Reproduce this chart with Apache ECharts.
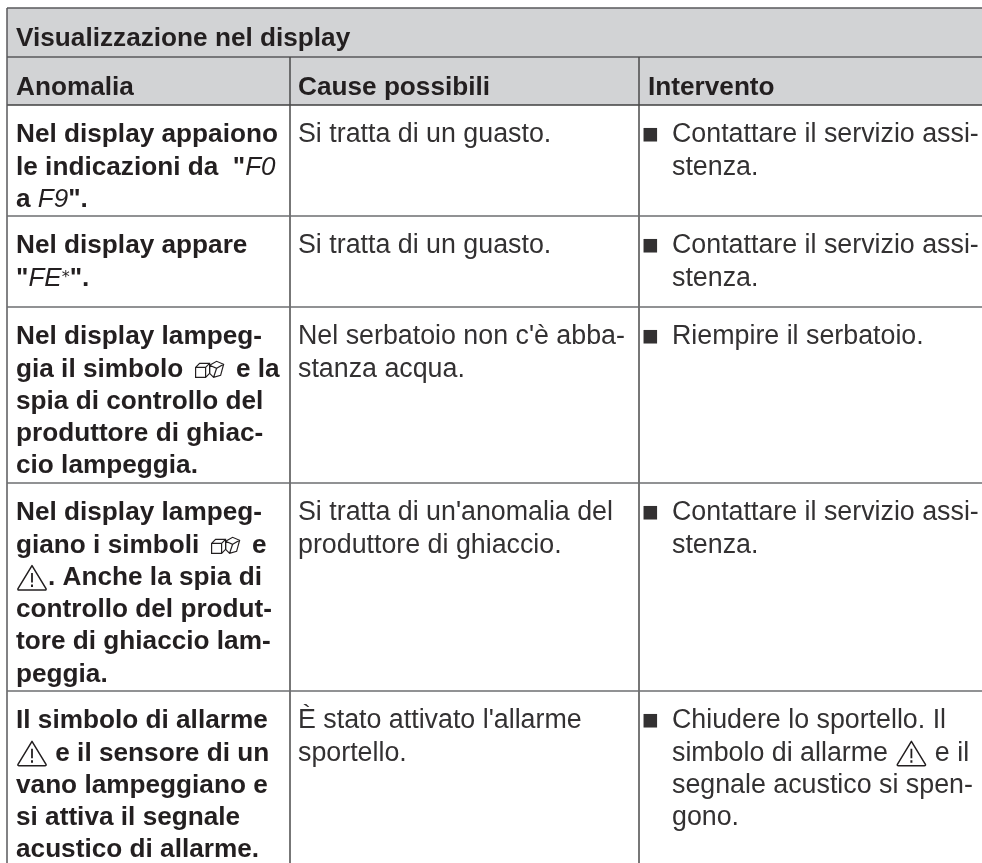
<!DOCTYPE html>
<html>
<head>
<meta charset="utf-8">
<title>Visualizzazione nel display</title>
<script src="https://cdn.jsdelivr.net/npm/echarts@6/dist/echarts.min.js"></script>
<style>
html, body { margin: 0; padding: 0; background: #fff; }
#main { width: 982px; height: 863px; }
</style>
</head>
<body>
<div id="main"></div>
<script>
// testo della tabella
var tableTitle = 'Visualizzazione nel display';
var columnTitles = ['Anomalia', 'Cause possibili', 'Intervento'];
var anomalyLines = [
    ['Nel display appaiono', 'le indicazioni da  "{lcd|F0}', 'a {lcd|F9}"{b|.}'],
    ['Nel display appare', '"{lcd|FE}{star|*}"{b|.}'],
    ['Nel display lampeg-', 'gia il simbolo {cube| } e la', 'spia di controllo del', 'produttore di ghiac-', 'cio lampeggia.'],
    ['Nel display lampeg-', 'giano i simboli {cube| } e', '{warn| }. Anche la spia di', 'controllo del produt-', 'tore di ghiaccio lam-', 'peggia.'],
    ['Il simbolo di allarme', '{warn| } e il sensore di un', 'vano lampeggiano e', 'si attiva il segnale', 'acustico di allarme.']
];
var causeLines = [
    ['Si tratta di un guasto.'],
    ['Si tratta di un guasto.'],
    ["Nel serbatoio non c'è abba-", 'stanza acqua.'],
    ["Si tratta di un'anomalia del", 'produttore di ghiaccio.'],
    ["È stato attivato l'allarme", 'sportello.']
];
var actionLines = [
    ['Contattare il servizio assi-', 'stenza.'],
    ['Contattare il servizio assi-', 'stenza.'],
    ['Riempire il serbatoio.'],
    ['Contattare il servizio assi-', 'stenza.'],
    ['Chiudere lo sportello. Il', 'simbolo di allarme {warn| } e il', 'segnale acustico si spen-', 'gono.']
];

// griglia della tabella, in pixel
var W = 982, H = 863;
var columnEdges = [7, 290, 639, 982];
var rowEdges = [105, 216, 307, 483, 691, 863];
var topEdge = 8, titleEdge = 57;
var LINE = 32.3, FIRST = 30;
var INK = '#231f20', BODY = '#333132';
var FAMILY = '"Liberation Sans", Arial, sans-serif';

var warnSvg = '<svg xmlns="http://www.w3.org/2000/svg" width="32" height="28" viewBox="0 0 32 28">' +
    '<path d="M16 2 L30 25 Q30.5 26.5 29 26.5 L3 26.5 Q1.5 26.5 2 25 Z" fill="none" stroke="#231f20" stroke-width="1.5" stroke-linejoin="round"/>' +
    '<path d="M16 9.5 L16 19" stroke="#231f20" stroke-width="1.8"/><path d="M16 21 L16 23.5" stroke="#231f20" stroke-width="2"/></svg>';
var cubeSvg = '<svg xmlns="http://www.w3.org/2000/svg" width="38" height="20" viewBox="-4 -1 38 20">' +
    '<path d="M1 7 L5 3 L15 3 L15 13 L11 17 L1 17 Z M1 7 L11 7 L11 17 M11 7 L15 3" fill="none" stroke="#231f20" stroke-width="1.2"/>' +
    '<path d="M15 5 L22 1 L29 4 L26 15 L19 17 L15 13 Z M15 5 L22 8 L29 4 M22 8 L19 17" fill="none" stroke="#231f20" stroke-width="1.2"/></svg>';

function svgUrl(svg) {
    return 'data:image/svg+xml;charset=utf-8,' + encodeURIComponent(svg);
}

var richStyles = {
    lcd: { fontFamily: FAMILY, fontStyle: 'italic', fontWeight: 'normal', fontSize: 26, color: '#4a4a4a' },
    star: { fontFamily: '"DejaVu Sans"', fontWeight: 'normal', fontSize: 16, color: '#4a4a4a' },
    b: { fontFamily: FAMILY, fontWeight: 'bold', fontSize: 26.2, color: INK },
    warn: { width: 32, height: 28, backgroundColor: { image: svgUrl(warnSvg) } },
    cube: { width: 38, height: 20, backgroundColor: { image: svgUrl(cubeSvg) } }
};

function textEl(api, x, y, text, bold, size) {
    var p = api.coord([x, y]);
    return {
        type: 'text',
        z2: 5,
        style: {
            x: p[0], y: p[1],
            text: text,
            fill: bold ? INK : BODY,
            fontFamily: FAMILY,
            fontWeight: bold ? 'bold' : 'normal',
            fontSize: size || (bold ? 26.2 : 26.8),
            align: 'left',
            verticalAlign: 'middle',
            rich: richStyles
        }
    };
}

function lineEl(api, x1, y1, x2, y2, color) {
    var a = api.coord([x1, y1]), b = api.coord([x2, y2]);
    return {
        type: 'line',
        z2: 3,
        shape: { x1: a[0], y1: a[1], x2: b[0], y2: b[1] },
        style: { stroke: color, lineWidth: 1.5 }
    };
}

// ogni dato e' una riga: [tipo, indice]
var seriesData = [['head', 0]];
anomalyLines.forEach(function (l, i) { seriesData.push(['row', i]); });

function renderItem(params, api) {
    var kind = seriesData[params.dataIndex][0];
    var r = seriesData[params.dataIndex][1];
    var kids = [];
    if (kind === 'head') {
        var a = api.coord([columnEdges[0], topEdge]), b = api.coord([W, rowEdges[0]]);
        kids.push({ type: 'rect', z2: 1, shape: { x: a[0], y: a[1], width: b[0] - a[0], height: b[1] - a[1] }, style: { fill: '#d2d3d5' } });
        kids.push(lineEl(api, columnEdges[0], topEdge, W, topEdge, '#58595b'));
        kids.push(lineEl(api, columnEdges[0], titleEdge, W, titleEdge, '#58595b'));
        kids.push(lineEl(api, columnEdges[0], rowEdges[0], W, rowEdges[0], '#3f3f3f'));
        kids.push(lineEl(api, columnEdges[0], topEdge, columnEdges[0], H, '#58595b'));
        kids.push(lineEl(api, columnEdges[1], titleEdge, columnEdges[1], H, '#4a4a4a'));
        kids.push(lineEl(api, columnEdges[2], titleEdge, columnEdges[2], H, '#4a4a4a'));
        kids.push(textEl(api, 16, 39, tableTitle, true));
        kids.push(textEl(api, 16, 88, columnTitles[0], true));
        kids.push(textEl(api, 298, 88, columnTitles[1], true));
        kids.push(textEl(api, 648, 88, columnTitles[2], true));
    } else {
        var top = rowEdges[r];
        if (r > 0) {
            kids.push(lineEl(api, columnEdges[0], top, W, top, '#6d6e70'));
        }
        anomalyLines[r].forEach(function (t, i) {
            kids.push(textEl(api, 16, top + FIRST + i * LINE, t, true));
        });
        causeLines[r].forEach(function (t, i) {
            kids.push(textEl(api, 298, top + FIRST + i * LINE, t, false));
        });
        kids.push(textEl(api, 642, top + FIRST, '■', false, 28));
        actionLines[r].forEach(function (t, i) {
            kids.push(textEl(api, 672, top + FIRST + i * LINE, t, false));
        });
    }
    return { type: 'group', children: kids };
}

var chart = echarts.init(document.getElementById('main'), null, { renderer: 'canvas' });
chart.setOption({
    animation: false,
    backgroundColor: '#fff',
    grid: { left: 0, right: 0, top: 0, bottom: 0 },
    xAxis: { type: 'value', min: 0, max: W, show: false },
    yAxis: { type: 'value', min: 0, max: H, inverse: true, show: false },
    series: [{
        type: 'custom',
        coordinateSystem: 'cartesian2d',
        clip: false,
        silent: true,
        renderItem: renderItem,
        data: seriesData.map(function (d, i) { return [0, i]; })
    }]
});
</script>
</body>
</html>
